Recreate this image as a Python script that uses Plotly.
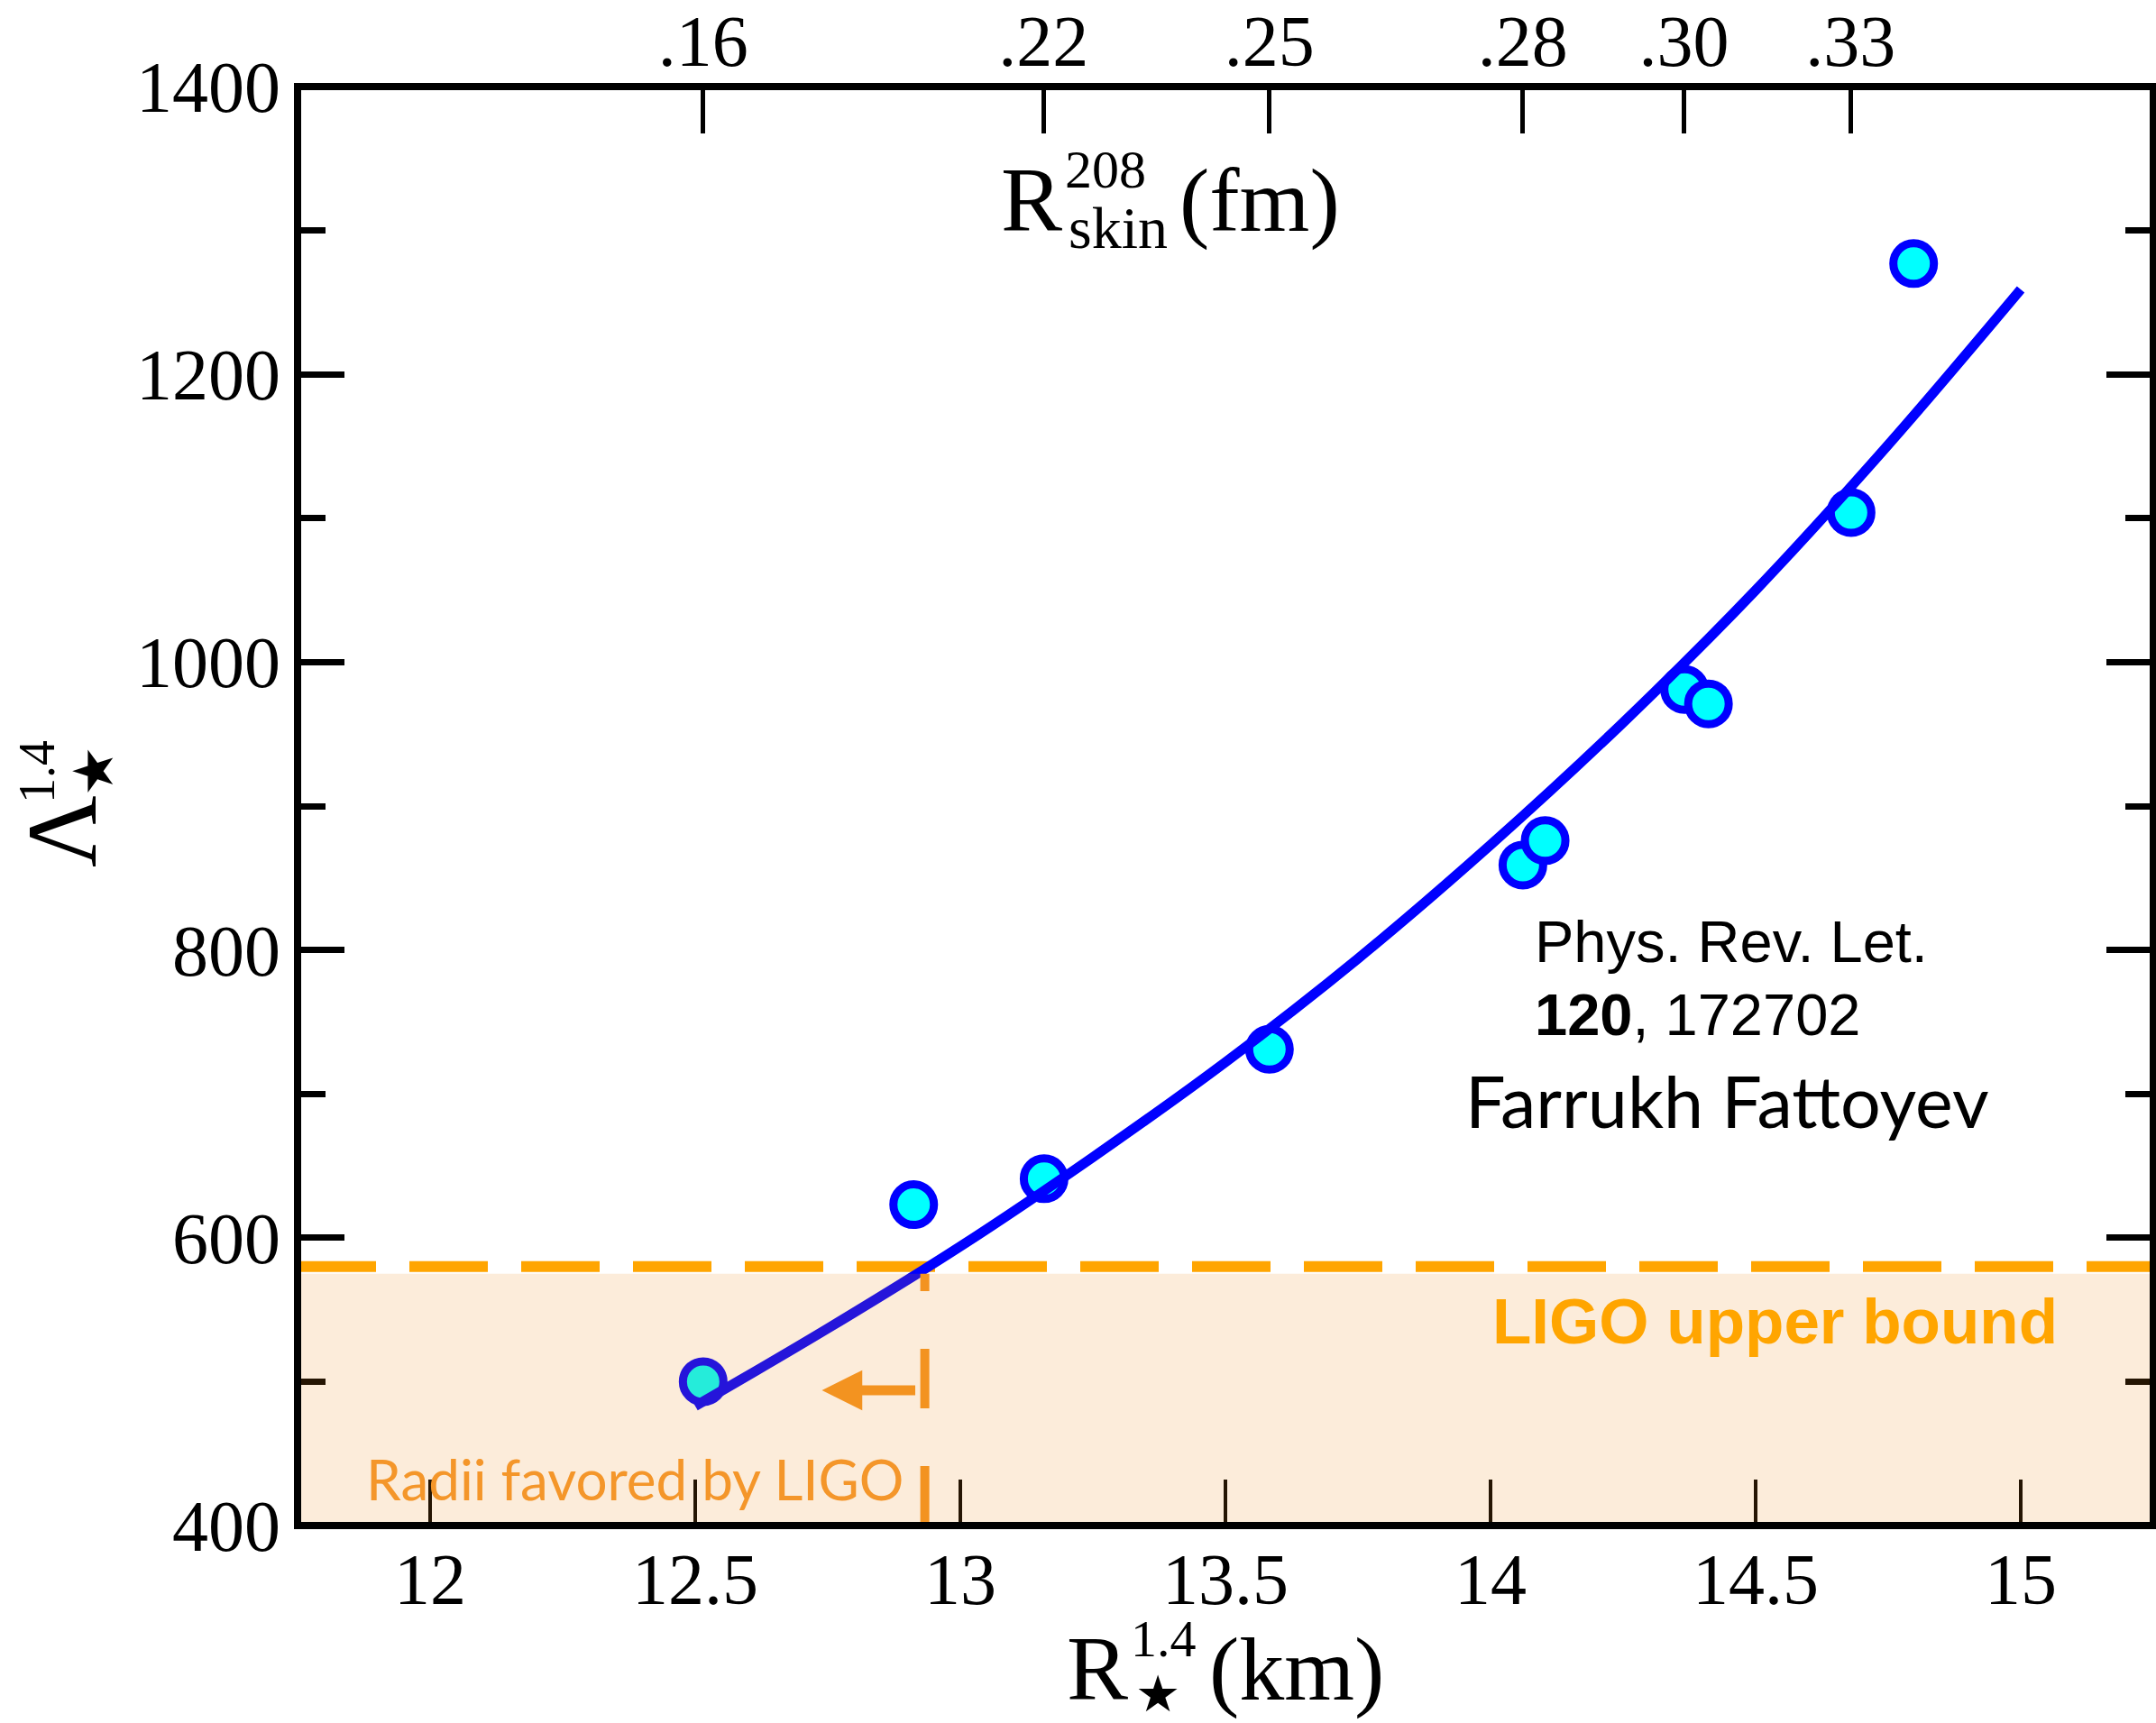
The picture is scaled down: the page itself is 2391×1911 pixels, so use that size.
import plotly.graph_objects as go

# ---------------- data ----------------
radius_km = [12.515, 12.912, 13.158, 13.583, 14.061, 14.103, 14.366, 14.411, 14.680, 14.798]
tidal_lambda = [500, 623, 641, 731, 859, 876, 981, 971, 1104, 1277]

fit_radius = [12.50, 12.75, 13.00, 13.25, 13.50, 13.75, 14.00, 14.25, 14.50, 14.75, 15.00]
fit_lambda = [483, 537, 594, 656, 722, 794, 873, 958, 1050, 1151, 1259]

skin_tick_labels = [".16", ".22", ".25", ".28", ".30", ".33"]
skin_tick_radius = [12.515, 13.157, 13.583, 14.061, 14.365, 14.679]

x_tick_vals = [12, 12.5, 13, 13.5, 14, 14.5, 15]
x_tick_text = ["12", "12.5", "13", "13.5", "14", "14.5", "15"]
y_tick_vals = [400, 600, 800, 1000, 1200, 1400]

ligo_bound = 580
ligo_shade_top = 575
ligo_radius = 12.933
arrow_y = 494
arrow_tip_x = 12.739
arrow_base_x = 12.815
arrow_tail_x = 12.915
arrow_half_height = 14

X_RANGE = [11.75, 15.25]
Y_RANGE = [400, 1400]

# ---------------- layout geometry (pixels) ----------------
W, H = 2391, 1911
PL, PR, PT, PB = 330, 2388, 96, 1692


def P(px, py):
    return (px - PL) / (PR - PL), (PB - py) / (PB - PT)


SERIF = "Liberation Serif, Times New Roman, DejaVu Serif, serif"
SANS = "Liberation Sans, Arial, sans-serif"
HUM = "Lato, Open Sans, sans-serif"
STAR = "DejaVu Sans, sans-serif"

fig = go.Figure()

fig.add_trace(go.Scatter(
    x=radius_km, y=tidal_lambda, mode="markers",
    marker=dict(size=45, color="#00FFFF", line=dict(color="#0000FF", width=9)),
    xaxis="x", yaxis="y", showlegend=False, hoverinfo="skip"))

fig.add_trace(go.Scatter(
    x=fit_radius, y=fit_lambda, mode="lines",
    line=dict(color="#0000FF", width=11, shape="spline", smoothing=1.0),
    xaxis="x", yaxis="y", showlegend=False, hoverinfo="skip"))

# invisible trace to activate the top axis
fig.add_trace(go.Scatter(x=[skin_tick_radius[0]], y=[Y_RANGE[0]], mode="markers",
                         marker=dict(opacity=0), xaxis="x2", yaxis="y",
                         showlegend=False, hoverinfo="skip"))

shapes = []
# LIGO upper-bound dashed line (below traces)
shapes.append(dict(type="line", xref="paper", yref="y", x0=0, x1=1, y0=ligo_bound, y1=ligo_bound,
                   line=dict(color="#FFA500", width=12, dash="87px,37px"), layer="below"))
# shaded region (above traces)
shapes.append(dict(type="rect", xref="paper", yref="y", x0=0, x1=1, y0=Y_RANGE[0], y1=ligo_shade_top,
                   fillcolor="rgba(235,134,16,0.155)", line=dict(width=0), layer="above"))
# vertical dashed line
shapes.append(dict(type="line", xref="x", yref="y", x0=ligo_radius, x1=ligo_radius,
                   y0=Y_RANGE[0], y1=ligo_shade_top,
                   line=dict(color="#F39320", width=10, dash="66px,64px"), layer="above"))
# arrow shaft and head
shapes.append(dict(type="line", xref="x", yref="y", x0=arrow_tail_x, x1=arrow_base_x - 0.005,
                   y0=arrow_y, y1=arrow_y, line=dict(color="#F39320", width=11), layer="above"))
shapes.append(dict(type="path", xref="x", yref="y",
                   path=f"M {arrow_tip_x},{arrow_y} L {arrow_base_x},{arrow_y + arrow_half_height} "
                        f"L {arrow_base_x},{arrow_y - arrow_half_height} Z",
                   fillcolor="#F39320", line=dict(width=0), layer="above"))
# frame
shapes.append(dict(type="rect", xref="paper", yref="paper", x0=0, x1=1, y0=0, y1=1,
                   line=dict(color="black", width=8), fillcolor="rgba(0,0,0,0)", layer="above"))

annotations = []


def ann(text, px, py, size, family, color="black", xanchor="left", yanchor="middle", angle=0):
    x, y = P(px, py)
    annotations.append(dict(text=text, x=x, y=y, xref="paper", yref="paper",
                            xanchor=xanchor, yanchor=yanchor, showarrow=False,
                            textangle=angle, borderpad=0,
                            font=dict(size=size, family=family, color=color)))


# top axis title  R^{208}_{skin}(fm)
ann("R", 1109, 256 - 0.3375 * 102, 102, SERIF)
ann("208", 1180, 208 - 0.3375 * 60, 60, SERIF)
ann("skin", 1184, 275 - 0.3375 * 66, 66, SERIF)
ann("(fm)", 1307, 256 - 0.3375 * 100, 100, SERIF)

# bottom axis title  R^{1.4}_★(km)
ann("R", 1182, 1885 - 0.3375 * 102, 102, SERIF)
ann("1.4", 1253, 1837 - 0.3375 * 58, 58, SERIF)
ann("★", 1284, 1878, 56, STAR, xanchor="center")
ann("(km)", 1340, 1885 - 0.3375 * 100, 100, SERIF)

# y axis title  Λ^{1.4}_★ (rotated)
ann("Λ", 106 - 0.3375 * 110, 922, 110, SERIF, xanchor="center", angle=-90)
ann("1.4", 60 - 0.3375 * 56, 856, 56, SERIF, xanchor="center", angle=-90)
ann("★", 103, 855, 62, STAR, xanchor="center", angle=-90)

# texts
ann("Phys. Rev. Let.", 1701, 1067 - 0.3465 * 65, 65, SANS)
ann("<b>120</b>, 172702", 1701, 1148 - 0.3465 * 65, 65, SANS)
ann("Farrukh Fattoyev", 1624, 1251 - 0.387 * 79, 79, HUM)
ann("<b>LIGO upper bound</b>", 1654, 1490 - 0.3465 * 71, 71, SANS, color="#FFA500")
ann("Radii favored by LIGO", 405, 1664 - 0.387 * 62, 62, HUM, color="#F4962A")

tickfont = dict(family=SERIF, size=80, color="black")

fig.update_layout(
    width=W, height=H,
    margin=dict(l=PL, r=W - PR, t=PT, b=H - PB, pad=0),
    paper_bgcolor="white", plot_bgcolor="white",
    showlegend=False,
    xaxis=dict(range=X_RANGE, tickmode="array", tickvals=x_tick_vals, ticktext=x_tick_text,
               ticks="inside", ticklen=51, tickwidth=4, tickcolor="black",
               showgrid=False, zeroline=False, showline=False, tickfont=tickfont,
               ticklabelstandoff=6),
    xaxis2=dict(range=X_RANGE, overlaying="x", side="top", anchor="y",
                tickmode="array", tickvals=skin_tick_radius, ticktext=skin_tick_labels,
                ticks="inside", ticklen=52, tickwidth=5, tickcolor="black",
                showgrid=False, zeroline=False, showline=False, tickfont=tickfont,
                ticklabelstandoff=6),
    yaxis=dict(range=Y_RANGE, tickmode="array", tickvals=y_tick_vals,
               ticks="inside", ticklen=52, tickwidth=7, tickcolor="black",
               minor=dict(dtick=100, tick0=400, ticks="inside", ticklen=31, tickwidth=7, tickcolor="black"),
               mirror="ticks",
               showgrid=False, zeroline=False, showline=False, tickfont=tickfont,
               ticklabelstandoff=18),
    shapes=shapes,
    annotations=annotations,
)

fig.write_html("out.html")
